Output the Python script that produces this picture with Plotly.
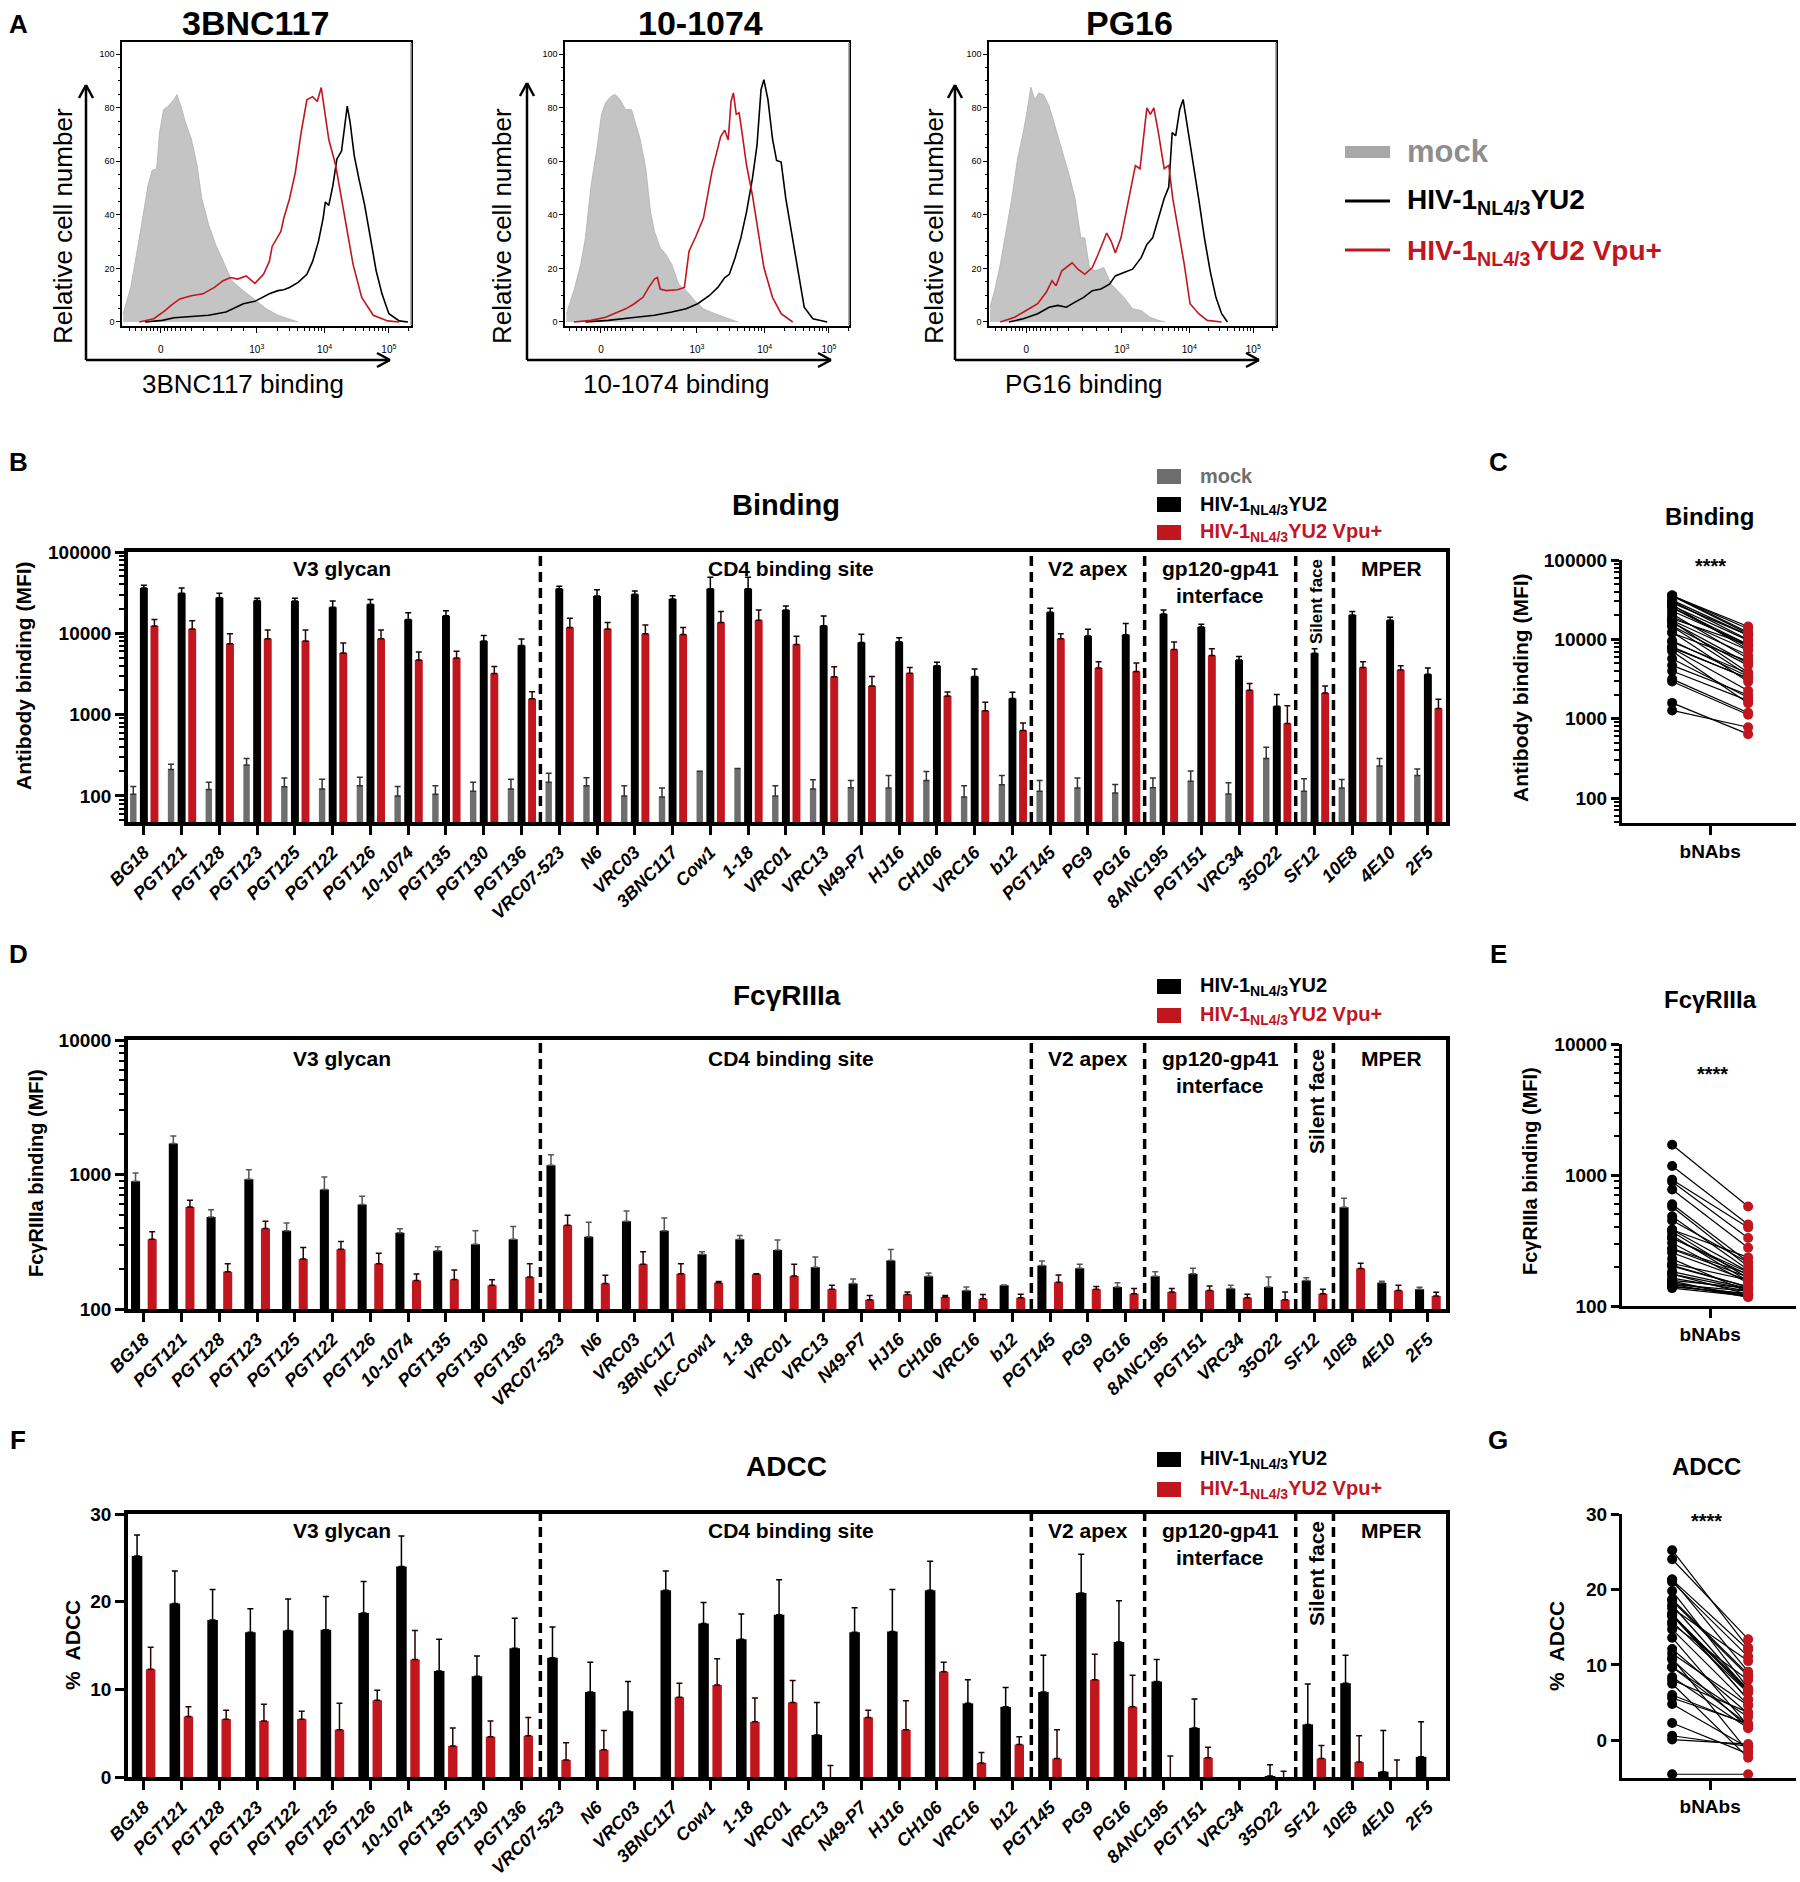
import math
import plotly.graph_objects as go

W, H = 1800, 1882
FONT = "Liberation Sans, Arial, sans-serif"
RED = "#C1161E"
MOCK_BAR = "#6E6E6E"
MOCK_FILL = "#C4C4C4"

# ---------------- Panel A: flow histograms (x in display units of biexponential axis) ----------------
flow_tick_vals = [0, 1.39, 2.37, 3.30]
flow_tick_text = ["0", "10<sup>3</sup>", "10<sup>4</sup>", "10<sup>5</sup>"]
count_ticks = [0, 20, 40, 60, 80, 100]
hist_titles = ["3BNC117", "10-1074", "PG16"]
hist_xlabels = ["3BNC117 binding", "10-1074 binding", "PG16 binding"]
hist_ylabel = "Relative cell number"

h1_mock_x = [-0.543, -0.434, -0.309, -0.184, -0.125, -0.058, -0.017, 0.042, 0.109, 0.192, 0.234, 0.292, 0.359, 0.443,
             0.526, 0.593, 0.693, 0.794, 0.902, 1.028, 1.195, 1.320, 1.404, 1.529, 1.696, 1.863, 1.988]
h1_mock_y = [3.1, 12.9, 31.4, 51.0, 56.6, 57.2, 70.7, 79.3, 80.6, 83.0, 84.9, 80.6, 74.4, 68.3,
             58.4, 46.1, 36.3, 28.9, 22.8, 15.4, 11.7, 9.2, 7.4, 4.9, 2.5, 1.2, 0]
h1_yu2_x = [-0.226, 0.025, 0.192, 0.443, 0.693, 0.944, 1.195, 1.362, 1.571, 1.696, 1.779, 1.863, 1.988, 2.114, 2.197,
            2.281, 2.348, 2.381, 2.431, 2.490, 2.548, 2.615, 2.673, 2.698, 2.740, 2.799, 2.866, 2.949, 3.033, 3.116,
            3.200, 3.300, 3.450, 3.576]
h1_yu2_y = [0, 0.6, 1.6, 2.1, 2.5, 3.7, 6.8, 7.7, 10.5, 11.7, 12.0, 12.9, 14.8, 17.8, 22.6,
            30.0, 38.6, 44.8, 43.5, 50.9, 60.8, 63.8, 76.7, 80.6, 74.4, 62.1, 53.5, 43.7, 31.4, 19.1,
            10.5, 3.1, 0.4, 0]
h1_vpu_x = [-0.309, -0.100, 0.067, 0.150, 0.276, 0.443, 0.610, 0.777, 0.902, 1.011, 1.111, 1.236, 1.362, 1.487, 1.571,
            1.612, 1.738, 1.779, 1.863, 1.947, 2.030, 2.114, 2.197, 2.264, 2.322, 2.364, 2.431, 2.531, 2.615, 2.698,
            2.782, 2.907, 3.074, 3.283, 3.450]
h1_vpu_y = [0, 1.2, 4.3, 6.2, 8.6, 9.8, 10.5, 12.9, 15.4, 16.6, 16.0, 17.2, 14.4, 17.8, 22.6,
            28.2, 33.8, 38.6, 46.0, 55.8, 70.6, 82.9, 84.1, 82.3, 87.5, 79.2, 68.1, 58.4, 46.1, 33.8,
            21.5, 9.2, 2.5, 0.4, 0]

h2_mock_x = [-0.500, -0.392, -0.292, -0.225, -0.142, -0.058, 0.008, 0.067, 0.150, 0.208, 0.275, 0.358, 0.442, 0.508,
             0.567, 0.650, 0.717, 0.775, 0.858, 0.942, 1.025, 1.125, 1.233, 1.358, 1.483, 1.650, 1.817, 1.983]
h2_mock_y = [3.1, 11.7, 21.5, 31.4, 51.0, 64.6, 77.5, 81.8, 84.3, 84.9, 83.0, 79.3, 79.3, 73.2,
             68.3, 57.2, 41.2, 33.8, 27.7, 25.2, 21.5, 14.1, 11.7, 8.0, 4.9, 3.1, 1.6, 0]
h2_yu2_x = [-0.225, 0.108, 0.442, 0.775, 1.025, 1.233, 1.400, 1.567, 1.692, 1.792, 1.858, 1.942, 2.025, 2.108,
            2.192, 2.258, 2.317, 2.358, 2.417, 2.483, 2.542, 2.608, 2.675, 2.758, 2.858, 2.942, 3.067, 3.275]
h2_yu2_y = [0, 0.6, 1.6, 2.5, 3.7, 4.9, 6.8, 9.8, 12.9, 16.6, 17.8, 24.0, 31.4, 41.2,
            53.5, 65.8, 86.7, 90.4, 83.0, 68.3, 60.3, 59.7, 46.1, 33.8, 19.1, 5.5, 1.2, 0]
h2_vpu_x = [-0.392, -0.142, 0.067, 0.233, 0.358, 0.483, 0.608, 0.692, 0.775, 0.817, 0.858, 0.942, 1.108, 1.208, 1.275,
            1.375, 1.483, 1.608, 1.733, 1.792, 1.842, 1.883, 1.917, 1.958, 2.000, 2.042, 2.108, 2.192, 2.275, 2.358,
            2.483, 2.608, 2.775]
h2_vpu_y = [0, 0.6, 1.8, 3.7, 4.9, 6.8, 9.2, 12.9, 16.0, 16.6, 12.3, 11.7, 12.0, 12.9, 26.4,
            32.0, 38.7, 56.3, 69.2, 71.6, 67.9, 82.4, 85.5, 77.5, 78.1, 70.7, 58.4, 47.4, 33.8, 20.3,
            9.2, 3.1, 0]

h3_mock_x = [-0.526, -0.459, -0.376, -0.292, -0.209, -0.125, -0.042, 0.017, 0.067, 0.125, 0.184, 0.251, 0.334, 0.418,
             0.518, 0.627, 0.710, 0.794, 0.852, 0.919, 1.003, 1.128, 1.236, 1.320, 1.420, 1.546, 1.671, 1.796, 1.921,
             2.022]
h3_mock_y = [5.5, 11.7, 21.5, 33.8, 46.1, 60.9, 70.7, 79.3, 87.7, 83.0, 85.5, 84.9, 80.6, 73.2,
             64.6, 54.7, 46.1, 31.4, 31.4, 20.3, 19.1, 20.3, 14.1, 11.7, 9.2, 4.9, 4.3, 1.8, 0.6, 0]
h3_yu2_x = [-0.251, -0.042, 0.167, 0.334, 0.459, 0.585, 0.710, 0.835, 0.961, 1.086, 1.211, 1.295, 1.420, 1.546, 1.671,
            1.754, 1.838, 1.921, 2.005, 2.072, 2.122, 2.172, 2.231, 2.281, 2.339, 2.423, 2.506, 2.590, 2.673, 2.757,
            2.840, 2.924]
h3_yu2_y = [0, 1.2, 3.1, 5.5, 6.2, 5.5, 7.4, 9.2, 11.7, 12.3, 14.1, 17.2, 18.5, 19.7, 24.0,
            28.9, 31.4, 38.7, 46.1, 50.4, 70.7, 69.5, 79.3, 83.0, 73.8, 60.9, 46.1, 31.4, 19.1, 9.2,
            3.1, 0]
h3_vpu_x = [-0.376, -0.167, 0.0, 0.167, 0.292, 0.376, 0.434, 0.518, 0.668, 0.752, 0.852, 0.961, 1.044, 1.103, 1.170,
            1.236, 1.295, 1.378, 1.487, 1.587, 1.654, 1.713, 1.754, 1.805, 1.855, 1.921, 2.005, 2.072, 2.130, 2.214,
            2.297, 2.381, 2.506, 2.632, 2.840]
h3_vpu_y = [0, 1.8, 4.3, 6.8, 11.1, 15.4, 13.5, 19.1, 22.1, 19.7, 17.8, 20.3, 25.2, 28.9, 33.2,
            30.1, 25.8, 31.4, 46.1, 58.4, 57.2, 70.7, 79.9, 77.5, 79.9, 70.7, 57.2, 58.4, 46.1, 33.8,
            21.5, 6.8, 3.1, 0.6, 0]

legend_mock = "mock"
legend_yu2 = "HIV-1<sub>NL4/3</sub>YU2"
legend_vpu = "HIV-1<sub>NL4/3</sub>YU2 Vpu+"

# ---------------- Panel B/C: Binding ----------------
bind_labels = ["BG18", "PGT121", "PGT128", "PGT123", "PGT125", "PGT122", "PGT126", "10-1074", "PGT135", "PGT130",
               "PGT136", "VRC07-523", "N6", "VRC03", "3BNC117", "Cow1", "1-18", "VRC01", "VRC13", "N49-P7", "HJ16",
               "CH106", "VRC16", "b12", "PGT145", "PG9", "PG16", "8ANC195", "PGT151", "VRC34", "35O22", "SF12",
               "10E8", "4E10", "2F5"]
bind_mock = [105, 211, 120, 240, 130, 122, 134, 100, 105, 114, 122, 147, 134, 100, 97, 201, 217, 100, 122, 126, 125,
             155, 97, 137, 114, 125, 109, 126, 152, 106, 288, 114, 125, 234, 179]
bind_mock_top = [131, 245, 147, 288, 166, 161, 170, 131, 134, 147, 161, 190, 168, 134, 125, 201, 217, 134, 158, 155,
                 178, 200, 134, 178, 155, 166, 138, 166, 203, 145, 396, 163, 159, 288, 215]
bind_yu2 = [36000, 31200, 27300, 25300, 25000, 20900, 22800, 14800, 16400, 8040, 7080, 35300, 28800, 30300, 26500,
            35300, 35300, 19300, 12400, 7730, 7870, 3990, 2940, 1580, 18200, 9260, 9620, 17300, 12000, 4700, 1270,
            5690, 16800, 14500, 3150]
bind_yu2_top = [39000, 36000, 31200, 27000, 27000, 25000, 26000, 17900, 19000, 9400, 8500, 38000, 34400, 33200,
                29000, 49000, 49000, 21700, 16300, 9720, 8830, 4400, 3640, 1880, 20300, 11200, 13200, 19300, 12900,
                5180, 1770, 6440, 18500, 15800, 3740]
bind_vpu = [12300, 11300, 7430, 8590, 8040, 5740, 8590, 4700, 4980, 3210, 1570, 11800, 11300, 9900, 9700, 13600,
            14500, 7300, 2920, 2250, 3230, 1690, 1120, 638, 8590, 3740, 3400, 6310, 5320, 1990, 780, 1850, 3810,
            3530, 1190]
bind_vpu_top = [14800, 14300, 9900, 11000, 11000, 7600, 11000, 5900, 6000, 3920, 1910, 15300, 13600, 12700, 11800,
                18500, 19300, 9200, 3890, 2940, 3800, 1900, 1420, 787, 9900, 4480, 4310, 7800, 6440, 2410, 1290,
                2250, 4480, 4000, 1550]
bind_ticks = [100, 1000, 10000, 100000]
bind_ticktext = ["100", "1000", "10000", "100000"]

# ---------------- Panel D/E: FcgRIIIa ----------------
fc_labels = ["BG18", "PGT121", "PGT128", "PGT123", "PGT125", "PGT122", "PGT126", "10-1074", "PGT135", "PGT130",
             "PGT136", "VRC07-523", "N6", "VRC03", "3BNC117", "NC-Cow1", "1-18", "VRC01", "VRC13", "N49-P7", "HJ16",
             "CH106", "VRC16", "b12", "PGT145", "PG9", "PG16", "8ANC195", "PGT151", "VRC34", "35O22", "SF12",
             "10E8", "4E10", "2F5"]
fc_yu2 = [889, 1702, 483, 920, 382, 774, 598, 369, 271, 303, 330, 1172, 345, 449, 382, 255, 330, 275, 204, 155, 229,
          175, 137, 150, 211, 201, 146, 175, 183, 142, 146, 163, 572, 157, 140]
fc_yu2_top = [1026, 1932, 546, 1087, 436, 958, 690, 395, 290, 382, 411, 1400, 441, 536, 475, 267, 352, 326, 244, 167,
              277, 185, 146, 151, 227, 215, 157, 189, 201, 150, 173, 171, 666, 161, 145]
fc_vpu = [330, 574, 189, 397, 235, 278, 217, 163, 166, 150, 173, 419, 155, 215, 183, 157, 181, 176, 140, 117, 128,
          123, 119, 121, 158, 140, 130, 134, 137, 121, 117, 130, 200, 137, 125]
fc_vpu_top = [375, 644, 217, 449, 287, 318, 260, 182, 195, 165, 217, 498, 178, 267, 217, 160, 183, 215, 150, 126, 134,
              126, 128, 129, 179, 147, 142, 142, 148, 129, 134, 140, 219, 150, 133]
fc_cutoff = 128
fc_ticks = [100, 1000, 10000]
fc_ticktext = ["100", "1000", "10000"]

# ---------------- Panel F/G: ADCC ----------------
adcc_labels = ["BG18", "PGT121", "PGT128", "PGT123", "PGT122", "PGT125", "PGT126", "10-1074", "PGT135", "PGT130",
               "PGT136", "VRC07-523", "N6", "VRC03", "3BNC117", "Cow1", "1-18", "VRC01", "VRC13", "N49-P7", "HJ16",
               "CH106", "VRC16", "b12", "PGT145", "PG9", "PG16", "8ANC195", "PGT151", "VRC34", "35O22", "SF12",
               "10E8", "4E10", "2F5"]
adcc_yu2 = [25.2, 19.8, 17.9, 16.5, 16.7, 16.8, 18.7, 24.0, 12.1, 11.5, 14.7, 13.6, 9.7, 7.5, 21.3, 17.5, 15.7, 18.5,
            4.8, 16.5, 16.6, 21.3, 8.4, 8.0, 9.7, 21.0, 15.4, 10.9, 5.6, -4.5, 0.1, 6.0, 10.7, 0.6, 2.3]
adcc_yu2_top = [27.6, 23.5, 21.4, 19.2, 20.3, 20.6, 22.3, 27.5, 15.7, 13.8, 18.1, 17.1, 13.1, 10.9, 23.5, 19.9, 18.6,
                22.5, 8.5, 19.3, 21.4, 24.6, 11.1, 10.2, 13.9, 25.4, 20.1, 13.4, 8.9, -4.5, 1.4, 10.6, 13.9, 5.3, 6.3]
adcc_vpu = [12.3, 6.9, 6.6, 6.4, 6.6, 5.4, 8.75, 13.4, 3.55, 4.6, 4.7, 1.95, 3.1, -2.3, 9.1, 10.5, 6.3, 8.5, -1.0,
            6.8, 5.4, 12.0, 1.6, 3.7, 2.1, 11.1, 8.0, -1.5, 2.2, -4.5, -0.5, 2.1, 1.7, -0.8, -1.8]
adcc_vpu_top = [14.8, 8.0, 7.6, 8.3, 7.5, 8.4, 9.9, 16.7, 5.6, 6.4, 6.8, 3.9, 5.3, -2.3, 10.7, 13.5, 9.0, 11.0, 1.3,
                7.6, 8.7, 13.1, 2.8, 4.6, 5.4, 14.0, 11.6, 2.4, 3.4, -4.5, 0.65, 3.6, 4.7, 1.95, -1.8]
adcc_ticks = [0, 10, 20, 30]

epitope_groups = ["V3 glycan", "CD4 binding site", "V2 apex", "gp120-gp41", "interface", "Silent face", "MPER"]
pair_label = ["bNAbs"]
stars = "****"


# ======================= helpers =======================
def dom_x(a, b):
    return [a / W, b / W]


def dom_y(top, bot):
    return [1 - bot / H, 1 - top / H]


def xa(n):
    return "xaxis" if n == 1 else f"xaxis{n}"


def ya(n):
    return "yaxis" if n == 1 else f"yaxis{n}"


def xr(n):
    return "x" if n == 1 else f"x{n}"


def yr(n):
    return "y" if n == 1 else f"y{n}"


def ann(text, x, y, size, color="black", bold=True, angle=0, xanchor="center", yanchor="middle"):
    return dict(text=text, x=x / W, y=1 - y / H, xref="paper", yref="paper", showarrow=False,
                font=dict(family=FONT, size=size, color=color, weight="bold" if bold else "normal"),
                textangle=angle, xanchor=xanchor, yanchor=yanchor)


def pline(x0, y0, x1, y1, color="black", width=2.5):
    return dict(type="line", xref="paper", yref="paper", x0=x0 / W, y0=1 - y0 / H, x1=x1 / W, y1=1 - y1 / H,
                line=dict(color=color, width=width))


def prect(x0, y0, x1, y1, color):
    return dict(type="rect", xref="paper", yref="paper", x0=x0 / W, y0=1 - y1 / H, x1=x1 / W, y1=1 - y0 / H,
                line=dict(width=0), fillcolor=color)


def err(vals, tops, color):
    return dict(type="data", symmetric=False, array=[t - v for v, t in zip(vals, tops)],
                arrayminus=[0] * len(vals), color=color, thickness=1.5, width=3)


def log_minor(lo_exp, hi_exp):
    return [k * 10 ** e for e in range(lo_exp, hi_exp) for k in range(2, 10)]


fig = go.Figure()
layout = {}
shapes = []
annotations = []

# ======================= Panel A =======================
A_DOM = [(122, 411), (565, 849), (989, 1276)]
A_XR = [[-0.56, 3.62], [-0.52, 3.59], [-0.54, 3.63]]
flow_minor = ([-0.45, -0.36, -0.28, -0.21, -0.15, -0.1, -0.05, 0.05, 0.1, 0.15, 0.21, 0.28, 0.36, 0.45, 0.62, 0.82,
               1.02, 1.2]
              + [1.39 + 0.98 * math.log10(k) for k in range(2, 10)]
              + [2.37 + 0.93 * math.log10(k) for k in range(2, 10)]
              + [3.30 + 0.93 * math.log10(k) for k in range(2, 4)])
hists = [(h1_mock_x, h1_mock_y, h1_yu2_x, h1_yu2_y, h1_vpu_x, h1_vpu_y),
         (h2_mock_x, h2_mock_y, h2_yu2_x, h2_yu2_y, h2_vpu_x, h2_vpu_y),
         (h3_mock_x, h3_mock_y, h3_yu2_x, h3_yu2_y, h3_vpu_x, h3_vpu_y)]
for k, (mx, my, bx, by, rx, ry) in enumerate(hists, start=1):
    fig.add_trace(go.Scatter(x=mx, y=my, mode="lines", fill="tozeroy", fillcolor=MOCK_FILL,
                             line=dict(color="#B0B0B0", width=0.8), xaxis=xr(k), yaxis=yr(k)))
    fig.add_trace(go.Scatter(x=bx, y=by, mode="lines", line=dict(color="black", width=1.6),
                             xaxis=xr(k), yaxis=yr(k)))
    fig.add_trace(go.Scatter(x=rx, y=ry, mode="lines", line=dict(color=RED, width=1.6),
                             xaxis=xr(k), yaxis=yr(k)))
    layout[xa(k)] = dict(domain=dom_x(*A_DOM[k - 1]), range=A_XR[k - 1], anchor=yr(k), automargin=False,
                         tickmode="array", tickvals=flow_tick_vals, ticktext=flow_tick_text,
                         ticks="outside", ticklen=5, tickwidth=1, tickcolor="black",
                         tickfont=dict(family=FONT, size=10, color="black"), ticklabelstandoff=8,
                         showline=True, linecolor="black", linewidth=1.5, mirror=True,
                         showgrid=False, zeroline=False,
                         minor=dict(tickvals=flow_minor, ticks="outside", ticklen=3, tickwidth=1,
                                    tickcolor="black"))
    layout[ya(k)] = dict(domain=dom_y(42, 326), range=[-1.5, 104.5], anchor=xr(k), automargin=False,
                         tickmode="array", tickvals=count_ticks,
                         ticks="outside", ticklen=4, tickwidth=1, tickcolor="black",
                         tickfont=dict(family=FONT, size=9, color="black"),
                         showline=True, linecolor="black", linewidth=1.5, mirror=True,
                         showgrid=False, zeroline=False,
                         minor=dict(tickmode="linear", tick0=0, dtick=5, ticks="outside", ticklen=2,
                                    tickwidth=1, tickcolor="black"))
    # lighter right border like the flow-cytometry export
    x_right = A_DOM[k - 1][1]
    shapes.append(pline(x_right, 43, x_right, 325, "#9A9A9A", 1.6))

# arrows, titles, labels of panel A
A_ARROWS = [(86, 360, 85, 390), (527, 360, 83, 831), (955, 360, 85, 1259)]
A_TITLE_X = [255, 700, 1129]
A_YLAB_X = [63, 502, 934]
A_XLAB_X = [243, 676, 1084]
for i, (cx, cy, top, right) in enumerate(A_ARROWS):
    shapes += [pline(cx, cy, cx, top), pline(cx, top, cx - 7, top + 13), pline(cx, top, cx + 7, top + 13),
               pline(cx, cy, right, cy), pline(right, cy, right - 13, cy - 7), pline(right, cy, right - 13, cy + 7)]
    annotations.append(ann(hist_titles[i], A_TITLE_X[i], 23, 34))
    annotations.append(ann(hist_ylabel, A_YLAB_X[i], 226, 26, bold=False, angle=-90))
    annotations.append(ann(hist_xlabels[i], A_XLAB_X[i], 384, 26, bold=False))

# legend A
shapes += [prect(1345, 146, 1390, 158, "#A8A8A8"), pline(1345, 201, 1390, 201, "black", 3),
           pline(1345, 250, 1390, 250, RED, 3)]
annotations += [ann(legend_mock, 1405, 151, 31, color="#8E8E8E", xanchor="left"),
                ann(legend_yu2, 1405, 202, 28, xanchor="left"),
                ann(legend_vpu, 1405, 252, 28, color=RED, xanchor="left")]

# ======================= Bar panels B, D, F =======================
XR_BAR = [-0.42, 34.48]
group_bounds = [10.5, 23.5, 26.5, 30.5, 31.5]


def bar_xaxis(n, yn):
    return dict(domain=dom_x(128, 1446), range=XR_BAR, anchor=yr(yn), type="category", automargin=False,
                tickangle=-45, ticks="outside", ticklen=9, tickwidth=3, tickcolor="black",
                tickfont=dict(family=FONT, size=18, color="black", weight="bold", style="italic"),
                showline=True, linecolor="black", linewidth=3.5, mirror=True, showgrid=False)


def bar_yaxis(n, top, bot, **kw):
    d = dict(domain=dom_y(top, bot), anchor=xr(n), automargin=False, ticks="outside", ticklen=9, tickwidth=3,
             tickcolor="black", tickfont=dict(family=FONT, size=19, color="black", weight="bold"),
             showline=True, linecolor="black", linewidth=3.5, mirror=True, showgrid=False, zeroline=False)
    d.update(kw)
    return d


# B
fig.add_trace(go.Bar(x=bind_labels, y=bind_mock, marker=dict(color=MOCK_BAR, line=dict(width=0)),
                     width=0.17, offset=-0.365, error_y=err(bind_mock, bind_mock_top, "#333333"),
                     xaxis="x4", yaxis="y4"))
fig.add_trace(go.Bar(x=bind_labels, y=bind_yu2, marker=dict(color="black", line=dict(width=0)),
                     width=0.21, offset=-0.105, error_y=err(bind_yu2, bind_yu2_top, "black"),
                     xaxis="x4", yaxis="y4"))
fig.add_trace(go.Bar(x=bind_labels, y=bind_vpu, marker=dict(color=RED, line=dict(width=0)),
                     width=0.21, offset=0.175, error_y=err(bind_vpu, bind_vpu_top, "#2a0000"),
                     xaxis="x4", yaxis="y4"))
layout[xa(4)] = bar_xaxis(4, 4)
layout[ya(4)] = bar_yaxis(4, 552, 822, type="log", range=[1.68, 5], tickmode="array", tickvals=bind_ticks,
                          ticktext=bind_ticktext,
                          minor=dict(tickvals=log_minor(1, 5), ticks="outside", ticklen=5, tickwidth=2,
                                     tickcolor="black"))

# D
fig.add_trace(go.Bar(x=fc_labels, y=fc_yu2, marker=dict(color="black", line=dict(width=0)),
                     width=0.24, offset=-0.34, error_y=err(fc_yu2, fc_yu2_top, "#555555"),
                     xaxis="x6", yaxis="y6"))
fig.add_trace(go.Bar(x=fc_labels, y=fc_vpu, marker=dict(color=RED, line=dict(width=0)),
                     width=0.24, offset=0.10, error_y=err(fc_vpu, fc_vpu_top, "#2a0000"),
                     xaxis="x6", yaxis="y6"))
layout[xa(6)] = bar_xaxis(6, 6)
layout[ya(6)] = bar_yaxis(6, 1040, 1309, type="log", range=[2, 4], tickmode="array", tickvals=fc_ticks,
                          ticktext=fc_ticktext,
                          minor=dict(tickvals=log_minor(2, 4), ticks="outside", ticklen=5, tickwidth=2,
                                     tickcolor="black"))
shapes.append(dict(type="line", xref="x6 domain", x0=0, x1=1, yref="y6", y0=math.log10(fc_cutoff),
                   y1=math.log10(fc_cutoff), line=dict(color="black", width=2.5, dash="dot")))

# F
fig.add_trace(go.Bar(x=adcc_labels, y=adcc_yu2, marker=dict(color="black", line=dict(width=0)),
                     width=0.28, offset=-0.32, error_y=err(adcc_yu2, adcc_yu2_top, "black"),
                     xaxis="x8", yaxis="y8"))
fig.add_trace(go.Bar(x=adcc_labels, y=adcc_vpu, marker=dict(color=RED, line=dict(width=0)),
                     width=0.25, offset=0.055, error_y=err(adcc_vpu, adcc_vpu_top, "#2a0000"),
                     xaxis="x8", yaxis="y8"))
layout[xa(8)] = bar_xaxis(8, 8)
layout[ya(8)] = bar_yaxis(8, 1514, 1777, range=[0, 30], tickmode="array", tickvals=adcc_ticks)

for n in (4, 6, 8):
    for b in group_bounds:
        shapes.append(dict(type="line", xref=xr(n), x0=b, x1=b, yref=f"{yr(n)} domain", y0=0, y1=1,
                           line=dict(color="black", width=3.5, dash="10px,6px")))

# region labels
REG = {4: (568, 595, 602, 17), 6: (1058, 1085, 1102, 21), 8: (1530, 1557, 1574, 21)}
for n, (ytop, y2, ysf, sfs) in REG.items():
    annotations += [ann(epitope_groups[0], 342, ytop, 21), ann(epitope_groups[1], 791, ytop, 21),
                    ann(epitope_groups[2], 1088, ytop, 21), ann(epitope_groups[3], 1220, ytop, 21),
                    ann(epitope_groups[4], 1220, y2, 21), ann(epitope_groups[5], 1316, ysf, sfs, angle=-90),
                    ann(epitope_groups[6], 1391, ytop, 21)]

# bar-panel titles, y titles, legends
annotations += [ann("Binding", 786, 505, 29), ann("FcγRIIIa", 787, 995, 28), ann("ADCC", 786, 1466, 28),
                ann("Antibody binding (MFI)", 23, 676, 21, angle=-90),
                ann("FcγRIIIa binding (MFI)", 36, 1173, 20, angle=-90),
                ann("%  ADCC", 72, 1645, 21, angle=-90)]
shapes += [prect(1157, 469, 1181, 484, MOCK_BAR), prect(1157, 497, 1181, 512, "black"),
           prect(1157, 525, 1181, 540, RED)]
annotations += [ann(legend_mock, 1198, 476, 20, color=MOCK_BAR, xanchor="left"),
                ann(legend_yu2, 1198, 505, 20, xanchor="left"),
                ann(legend_vpu, 1198, 533, 20, color=RED, xanchor="left")]
for yb, yr_ in ((986, 1015), (1459, 1489)):
    shapes += [prect(1157, yb - 7, 1181, yb + 8, "black"), prect(1157, yr_ - 7, 1181, yr_ + 8, RED)]
    annotations += [ann(legend_yu2, 1198, yb, 20, xanchor="left"),
                    ann(legend_vpu, 1198, yr_, 20, color=RED, xanchor="left")]


# ======================= Paired panels C, E, G =======================
def add_pairs(black, red, n):
    lx, ly = [], []
    for b, r in zip(black, red):
        lx += [0, 1, None]
        ly += [b, r, None]
    fig.add_trace(go.Scatter(x=lx, y=ly, mode="lines", line=dict(color="black", width=1.2),
                             xaxis=xr(n), yaxis=yr(n)))
    fig.add_trace(go.Scatter(x=[0] * len(black), y=black, mode="markers",
                             marker=dict(color="black", size=10), xaxis=xr(n), yaxis=yr(n)))
    fig.add_trace(go.Scatter(x=[1] * len(red), y=red, mode="markers",
                             marker=dict(color=RED, size=10), xaxis=xr(n), yaxis=yr(n)))


def pair_xaxis(n):
    return dict(domain=dom_x(1622, 1796), range=[-0.66, 1.63], anchor=yr(n), automargin=False,
                tickmode="array", tickvals=[0.5],
                ticktext=pair_label, ticks="outside", ticklen=9, tickwidth=3, tickcolor="black",
                tickfont=dict(family=FONT, size=19, color="black", weight="bold"),
                showline=True, linecolor="black", linewidth=3, showgrid=False, zeroline=False)


def pair_yaxis(n, top, bot, **kw):
    d = dict(domain=dom_y(top, bot), anchor=xr(n), automargin=False, ticks="outside", ticklen=8, tickwidth=3,
             tickcolor="black", tickfont=dict(family=FONT, size=19, color="black", weight="bold"),
             showline=True, linecolor="black", linewidth=3, showgrid=False, zeroline=False)
    d.update(kw)
    return d


add_pairs(bind_yu2, bind_vpu, 5)
layout[xa(5)] = pair_xaxis(5)
layout[ya(5)] = pair_yaxis(5, 560, 823, type="log", range=[1.685, 5], tickmode="array", tickvals=bind_ticks,
                           ticktext=bind_ticktext,
                           minor=dict(tickvals=log_minor(1, 5), ticks="outside", ticklen=5, tickwidth=2,
                                      tickcolor="black"))
add_pairs(fc_yu2, fc_vpu, 7)
layout[xa(7)] = pair_xaxis(7)
layout[ya(7)] = pair_yaxis(7, 1044, 1306, type="log", range=[2, 4], tickmode="array", tickvals=fc_ticks,
                           ticktext=fc_ticktext,
                           minor=dict(tickvals=log_minor(2, 4), ticks="outside", ticklen=5, tickwidth=2,
                                      tickcolor="black"))
add_pairs(adcc_yu2, adcc_vpu, 9)
layout[xa(9)] = pair_xaxis(9)
layout[ya(9)] = pair_yaxis(9, 1514, 1778, range=[-5, 30], tickmode="array", tickvals=adcc_ticks)

annotations += [ann("Binding", 1709, 516, 24), ann(stars, 1710, 566, 20),
                ann("FcγRIIIa", 1710, 1000, 24), ann(stars, 1712, 1074, 20),
                ann("ADCC", 1706, 1466, 24), ann(stars, 1706, 1521, 20),
                ann("Antibody binding (MFI)", 1520, 688, 21, angle=-90),
                ann("FcγRIIIa binding (MFI)", 1530, 1171, 20, angle=-90),
                ann("%  ADCC", 1556, 1646, 21, angle=-90)]

# panel letters
for letter, x, y in (("A", 18, 24), ("B", 18, 462), ("C", 1498, 462), ("D", 18, 954), ("E", 1498, 954),
                     ("F", 18, 1440), ("G", 1498, 1440)):
    annotations.append(ann(letter, x, y, 26))

fig.update_layout(width=W, height=H, margin=dict(l=0, r=0, t=0, b=0, pad=0, autoexpand=False),
                  paper_bgcolor="white", plot_bgcolor="white", showlegend=False, barmode="overlay",
                  font=dict(family=FONT, color="black"), shapes=shapes, annotations=annotations, **layout)

fig.write_html("out.html", config={"displayModeBar": False},
               post_script="document.body.style.margin='0';")
